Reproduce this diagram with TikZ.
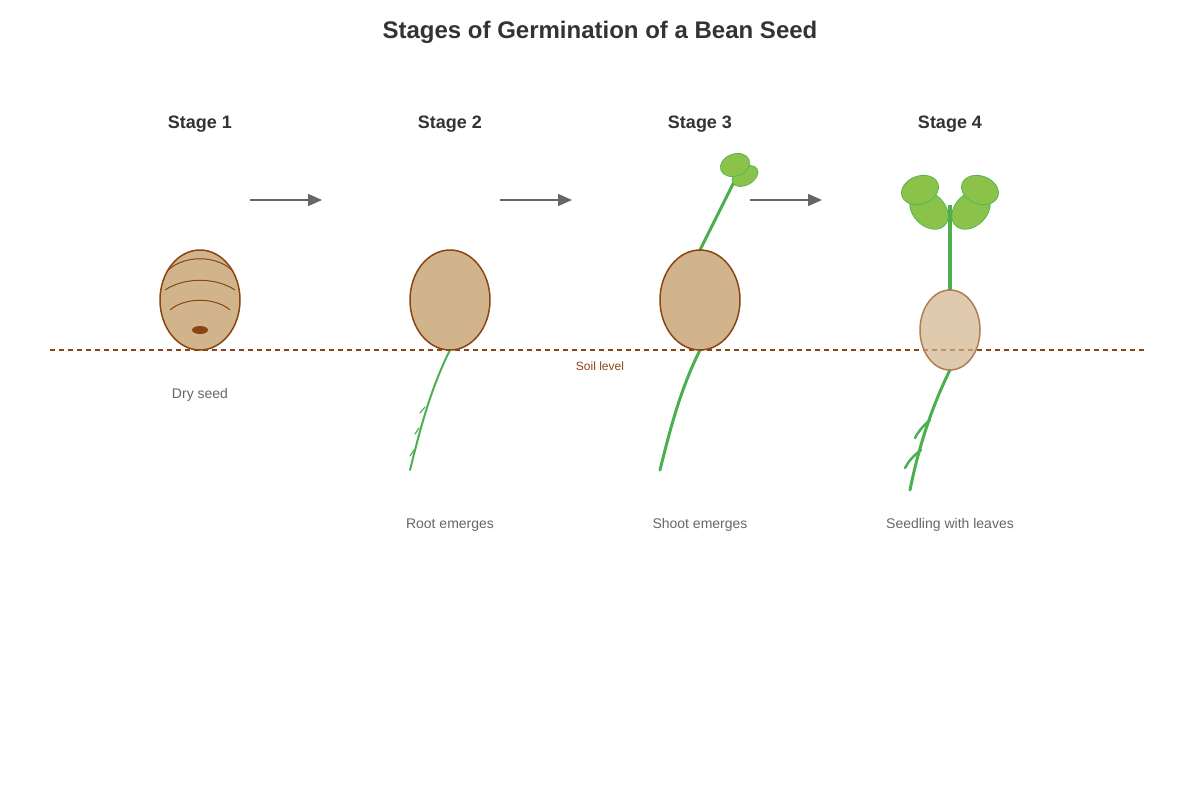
\documentclass[tikz,border=0pt]{standalone}
\usepackage{fontspec}
\setmainfont{Liberation Sans}
\usetikzlibrary{arrows.meta}
\definecolor{seedf}{HTML}{D2B48C}
\definecolor{seedd}{HTML}{8B4513}
\definecolor{grn}{HTML}{4CAF50}
\definecolor{leaf}{HTML}{8BC34A}
\definecolor{txt}{HTML}{333333}
\definecolor{lbl}{HTML}{666666}
\begin{document}
\begin{tikzpicture}[x=1pt,y=-1pt,
  seed/.style={draw=seedd,fill=seedf,line width=1.5pt},
  stem/.style={draw=grn,line width=3pt,line cap=round},
  rootl/.style={draw=grn,line width=2pt,line cap=round},
  lf/.style={fill=leaf,draw=grn!80!leaf,line width=0.8pt},
  arr/.style={draw=lbl,line width=1.5pt,-{Triangle[length=14pt,width=12pt]}},
  stage/.style={font=\bfseries\fontsize{18}{20}\selectfont,text=txt},
  caption/.style={font=\fontsize{14}{16}\selectfont,text=lbl}]
\useasboundingbox (0,0) rectangle (1200,800);
\node[font=\bfseries\fontsize{24}{28}\selectfont,text=txt] (title) at (600,32) {Stages of Germination of a Bean Seed};
\foreach \i/\x in {1/200,2/450,3/700,4/950}{\node[stage] (s\i) at (\x,124) {Stage \i};}
\coordinate (sl) at (50,350); \coordinate (sr) at (1145,350);
\draw[seedd,line width=1.5pt,dash pattern=on 5pt off 4pt] (sl) -- (sr);
\node[font=\fontsize{12}{14}\selectfont,text=seedd] (soil) at (600,366) {Soil level};
% arrows
\foreach \a in {250,500,750}{\coordinate (a\a) at (\a,200); \coordinate (b\a) at (\a+72,200); \draw[arr] (a\a) -- (b\a);}
% stage 1
\draw[seed] (200,300) ellipse (40 and 50);
\draw[seedd,line width=1pt] (168,270) .. controls (185,255) and (215,255) .. (232,270);
\draw[seedd,line width=1pt] (165,290) .. controls (185,277) and (215,277) .. (235,290);
\draw[seedd,line width=1pt] (170,310) .. controls (185,297) and (215,297) .. (230,310);
\fill[seedd] (200,330) ellipse (8 and 4);
\node[caption] (c1) at (200,395) {Dry seed};
% stage 2
\draw[rootl] (450,350) .. controls (430,390) and (420,430) .. (410,470);
\draw[rootl,line width=1.2pt] (425,407) -- (420,413);
\draw[rootl,line width=1.2pt] (419,428) -- (415,434);
\draw[rootl,line width=1.2pt] (414,450) -- (410,456);
\draw[seed] (450,300) ellipse (40 and 50);
\node[caption] (c2) at (450,525) {Root emerges};
% stage 3
\draw[rootl,line width=3pt] (700,350) .. controls (680,390) and (670,430) .. (660,470);
\draw[stem] (700,250) -- (736,178);
\draw[lf,rotate around={30:(745,176)}] (745,176) ellipse (14 and 9);
\draw[lf,rotate around={20:(735,165)}] (735,165) ellipse (15 and 11);
\draw[seed] (700,300) ellipse (40 and 50);
\node[caption] (c3) at (700,525) {Shoot emerges};
% stage 4
\draw[rootl,line width=3pt] (950,370) .. controls (935,400) and (920,440) .. (910,490);
\draw[rootl,line width=2.5pt] (930,420) .. controls (922,427) and (918,432) .. (915,438);
\draw[rootl,line width=2.5pt] (921,450) .. controls (913,456) and (908,462) .. (905,468);
\draw[stem,line width=4pt,line cap=butt] (950,290) -- (950,205);
\draw[lf,rotate around={-45:(929,210)}] (929,210) ellipse (22 and 16);
\draw[lf,rotate around={45:(971,210)}] (971,210) ellipse (22 and 16);
\draw[lf,rotate around={20:(920,190)}] (920,190) ellipse (19 and 14);
\draw[lf,rotate around={-20:(980,190)}] (980,190) ellipse (19 and 14);
\draw[seedd!70!white,fill=seedf,fill opacity=0.7,line width=1.5pt] (950,330) ellipse (30 and 40);
\node[caption] (c4) at (950,525) {Seedling with leaves};
\end{tikzpicture}
\end{document}
